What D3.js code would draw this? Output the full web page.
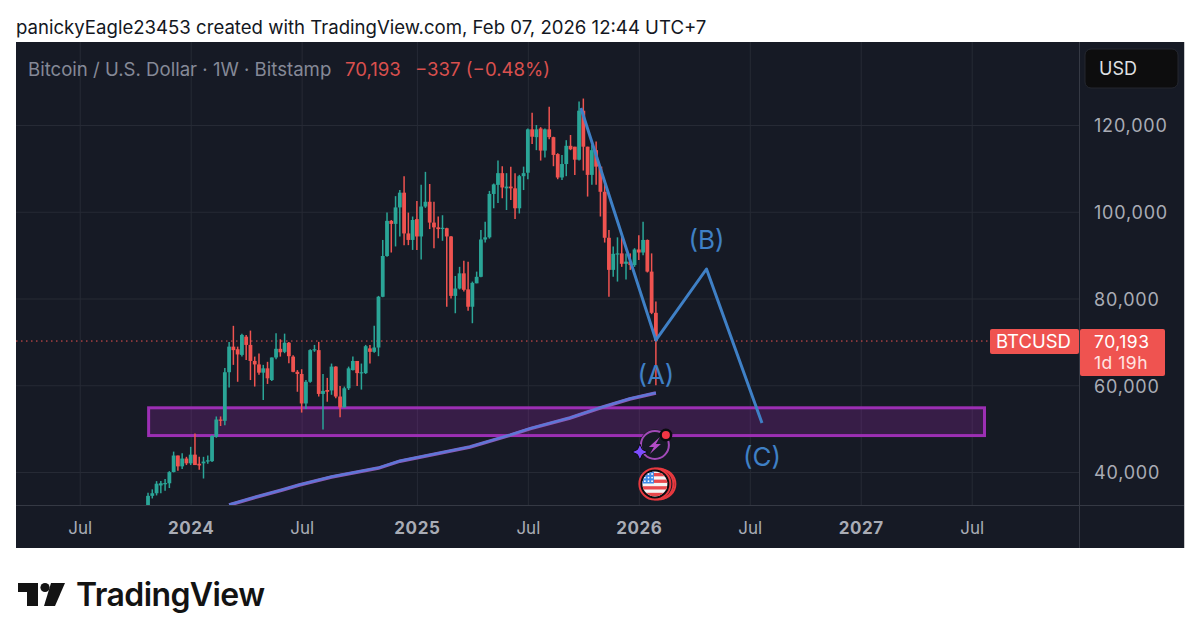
<!DOCTYPE html>
<html>
<head>
<meta charset="utf-8">
<script src="https://cdn.jsdelivr.net/npm/d3@7"></script>
<style>
    html, body { margin: 0; padding: 0; background: #fff; }
    svg { display: block; font-family: Inter, "Noto Sans", sans-serif; }
</style>
</head>
<body>
<div id="chart"></div>
<script>
// Weekly candles, first one is the week of Oct 23 2023
const firstWeek = "2023-10-23";
const opens = [
    30000, 34500, 35100, 36900, 37400, 37400, 40000, 43800, 41300, 43100,
    42000, 44000, 41900, 42000, 42400, 42500, 48100, 52100, 51800, 63000,
    68900, 68300, 67000, 71200, 69300, 65600, 64800, 62900, 63900, 61200,
    66400, 68400, 67700, 69800, 66600, 63100, 62600, 55800, 60800, 68100,
    68100, 58000, 58900, 58800, 64300, 57400, 54900, 59300, 63500, 65600,
    62800, 62800, 68500, 67700, 68700, 80400, 89800, 97900, 97200, 101000,
    104400, 95000, 93500, 98300, 94300, 101200, 102300, 97500, 96400, 96100,
    96200, 94300, 80600, 82300, 85800, 82100, 78100, 83500, 85000, 93600,
    94100, 104100, 106200, 108900, 105400, 105800, 105400, 100800, 108200, 109000,
    119000, 117200, 119200, 114100, 119000, 117200, 113300, 107900, 111000, 115200,
    115000, 112000, 123300, 115000, 108500, 114200, 110400, 104600, 94000, 86600,
    90300, 90400, 88000, 88500, 87700, 91300, 90600, 93500, 86200, 76700
];
const highs = [
    35200, 36000, 37900, 37900, 38400, 40200, 44700, 43800, 44300, 43500,
    45800, 48900, 43500, 43500, 43800, 48500, 52800, 52800, 64000, 70000,
    73700, 68900, 71900, 71600, 72600, 66600, 67300, 64700, 65400, 66400,
    72000, 70600, 71900, 70000, 66900, 63500, 63700, 61200, 68300, 69300,
    70000, 62600, 61700, 65000, 64400, 59800, 59700, 64300, 66600, 65600,
    65000, 69300, 69300, 73700, 80600, 93500, 99800, 98100, 103600, 105000,
    108200, 99800, 98900, 102500, 106200, 109200, 106400, 102300, 98900, 99200,
    96300, 94400, 85200, 87300, 88700, 88500, 83900, 86200, 95800, 97700,
    104800, 106500, 111800, 110500, 108900, 110400, 108900, 108500, 110400, 119200,
    122800, 120000, 119500, 119200, 124200, 117300, 113500, 113100, 116500, 117700,
    115000, 125400, 126100, 115000, 115400, 116200, 110400, 107300, 95800, 92000,
    94100, 94500, 90400, 90400, 91600, 94600, 97700, 93600, 90400, 79300
];
const lows = [
    29900, 33900, 34600, 35100, 35700, 36300, 39900, 40300, 40700, 41600,
    41600, 41600, 40500, 38500, 41900, 42300, 47900, 50600, 50800, 59500,
    64700, 60800, 66600, 65800, 61200, 59700, 62400, 56600, 60300, 61000,
    66000, 66600, 67400, 65100, 63000, 58500, 53700, 54500, 60600, 67700,
    57400, 49800, 56200, 57800, 57000, 52600, 54900, 58900, 63400, 59800,
    59000, 62600, 65000, 67500, 66700, 80300, 89600, 90600, 92000, 94300,
    92300, 92300, 91200, 91200, 89000, 100900, 96000, 91600, 93900, 93300,
    78100, 80000, 76600, 82100, 81600, 77200, 74300, 83500, 84900, 92900,
    93800, 100800, 102000, 103100, 100400, 102700, 98300, 99600, 105000, 107500,
    115600, 114200, 111800, 112500, 116700, 110500, 107500, 107300, 108200, 114200,
    108500, 111800, 109500, 103500, 106200, 106200, 98900, 92900, 80400, 85000,
    83900, 87300, 84400, 86600, 87300, 88900, 90000, 86000, 76400, 60000
];
const closes = [
    34500, 35100, 37300, 37400, 37450, 39970, 43800, 41300, 43100, 42000,
    44000, 41600, 41500, 42400, 42700, 48300, 52100, 51800, 63000, 68900,
    68100, 67100, 71600, 69300, 65600, 64800, 62900, 63900, 61600, 66400,
    68400, 67600, 69800, 66700, 63100, 62600, 55800, 60800, 68100, 68300,
    58000, 58700, 58500, 64300, 57400, 54900, 59300, 63900, 65600, 62800,
    63000, 69000, 67700, 68700, 80400, 89800, 97900, 97200, 101000, 104400,
    95000, 93500, 98100, 94300, 101200, 102300, 97500, 96400, 96000, 96300,
    94300, 80600, 82300, 85800, 82000, 78100, 83600, 85000, 93600, 94100,
    104100, 106300, 108900, 105600, 105800, 105400, 100800, 108200, 108900, 119000,
    117300, 119000, 114100, 119000, 117200, 113100, 107900, 111000, 115200, 114400,
    112000, 123300, 115000, 108500, 114200, 110400, 104600, 94000, 86600, 90300,
    90400, 88000, 88500, 87700, 91300, 90600, 93500, 86200, 76700, 70193
];

// Slow moving average under the candles
const maDates = ["2024-03-04", "2024-04-12", "2024-05-30", "2024-06-27", "2024-08-19", "2024-11-04",
    "2024-12-09", "2025-04-03", "2025-06-08", "2025-07-11", "2025-09-14", "2025-11-02", "2025-12-21", "2026-02-02"];
const maValues = [32400, 34000, 35850, 37000, 38850, 40900, 42500, 45750, 48500, 50000, 52450, 54750, 56850, 58200];

// Hand drawn ABC path and its labels
const waveDates = ["2025-10-02", "2026-02-02", "2026-04-26", "2026-07-26"];
const waveValues = [123900, 70400, 86800, 51300];
const waveLabels = [
    { text: "(A)", date: "2026-02-02", value: 60400 },
    { text: "(B)", date: "2026-04-26", value: 91400 },
    { text: "(C)", date: "2026-07-26", value: 41300 }
];

// Purple support box
const boxDates = ["2023-10-24", "2027-07-26"];
const boxValues = [54800, 48400];

const lastPrice = 70193;
const priceTicks = [120000, 100000, 80000, 60000, 40000];
const timeTicks = ["2023-07-03", "2024-01-01", "2024-07-01", "2025-01-06", "2025-07-07", "2026-01-05", "2026-07-06", "2027-01-04", "2027-07-05"];
const timeLabels = ["Jul", "2024", "Jul", "2025", "Jul", "2026", "Jul", "2027", "Jul"];

function init() {
    const w = 1200;
    const h = 642;
    const left = 16; // Chart panel edges
    const right = 1079; // Price axis starts here
    const panelRight = 1184;
    const top = 42;
    const plotBottom = 505; // Time axis starts here
    const panelBottom = 548;

    const teal = "#2aa597";
    const red = "#ef5350";
    const panelBg = "#161a25";
    const gridColor = "#262a35";
    const axisText = "#a9acb5";
    const blue = "#3f80c6";

    const parse = d3.utcParse("%Y-%m-%d");

    const candles = opens.map((o, i) => ({
        date: d3.utcMonday.offset(parse(firstWeek), i),
        open: o, high: highs[i], low: lows[i], close: closes[i]
    }));

    const xScale = d3.scaleUtc()
        .domain([parse("2024-01-01"), parse("2027-07-05")])
        .range([190.7, 971.7]);

    const yScale = d3.scaleLinear()
        .domain([40000, 120000])
        .range([472, 125]);

    const svg = d3.select("#chart")
        .append("svg")
        .attr("width", w)
        .attr("height", h);

    svg.append("rect").attr("width", w).attr("height", h).attr("fill", "#fff");

    // Header line above the panel
    svg.append("text")
        .attr("x", left)
        .attr("y", 34)
        .attr("font-size", "18.6px")
        .attr("fill", "#131722")
        .text("panickyEagle23453 created with TradingView.com, Feb 07, 2026 12:44 UTC+7");

    // Chart panel
    svg.append("rect")
        .attr("x", left)
        .attr("y", top)
        .attr("width", panelRight - left)
        .attr("height", panelBottom - top)
        .attr("fill", panelBg);
    svg.append("line")
        .attr("x1", panelRight + 0.5).attr("x2", panelRight + 0.5)
        .attr("y1", top).attr("y2", panelBottom)
        .attr("stroke", "#c9cacc");

    // Clip for everything living in the plot
    svg.append("clipPath").attr("id", "plot-clip")
        .append("rect")
        .attr("x", left).attr("y", top)
        .attr("width", right - left).attr("height", plotBottom - top);

    // Gridlines
    const xGrid = svg.append("g")
        .attr("transform", `translate(0,${plotBottom})`)
        .call(d3.axisBottom(xScale)
            .tickValues(timeTicks.map(parse))
            .tickSize(-(plotBottom - top))
            .tickFormat(""));
    xGrid.select(".domain").remove();
    xGrid.selectAll("line").attr("stroke", gridColor);

    const yGrid = svg.append("g")
        .attr("transform", `translate(${right},0)`)
        .call(d3.axisLeft(yScale)
            .tickValues(priceTicks)
            .tickSize(right - left)
            .tickFormat(""));
    yGrid.select(".domain").remove();
    yGrid.selectAll("line").attr("stroke", gridColor);

    const plot = svg.append("g").attr("clip-path", "url(#plot-clip)");

    // Last price dotted line
    plot.append("line")
        .attr("x1", left).attr("x2", right)
        .attr("y1", yScale(lastPrice)).attr("y2", yScale(lastPrice))
        .attr("stroke", red)
        .attr("stroke-width", 1)
        .attr("stroke-dasharray", "1.5 3.5");

    // Purple box
    plot.append("rect")
        .attr("x", xScale(parse(boxDates[0])))
        .attr("y", yScale(boxValues[0]))
        .attr("width", xScale(parse(boxDates[1])) - xScale(parse(boxDates[0])))
        .attr("height", yScale(boxValues[1]) - yScale(boxValues[0]))
        .attr("fill", "#9c27b0")
        .attr("fill-opacity", 0.25)
        .attr("stroke", "#9c2fb4")
        .attr("stroke-width", 3);

    // Moving average, violet underneath and blue on top
    const maData = maDates.map((d, i) => ({ date: parse(d), value: maValues[i] }));
    const maLine = d3.line().x(d => xScale(d.date)).y(d => yScale(d.value));
    plot.append("path")
        .attr("d", maLine(maData))
        .attr("fill", "none")
        .attr("stroke", "#8a5cba")
        .attr("stroke-width", 3.6);
    plot.append("path")
        .attr("d", maLine(maData))
        .attr("transform", "translate(0,-0.3)")
        .attr("fill", "none")
        .attr("stroke", "#5b78d8")
        .attr("stroke-width", 2.2);

    // Candles, wick first then body
    const bars = plot.selectAll("g.candle")
        .data(candles)
        .enter()
        .append("g")
        .attr("class", "candle")
        .attr("fill", d => d.close >= d.open ? teal : red)
        .attr("stroke", d => d.close >= d.open ? teal : red);

    bars.append("line")
        .attr("x1", d => xScale(d.date))
        .attr("x2", d => xScale(d.date))
        .attr("y1", d => yScale(d.high))
        .attr("y2", d => yScale(d.low))
        .attr("stroke-width", 1.5);

    bars.append("rect")
        .attr("x", d => xScale(d.date) - 1.9)
        .attr("width", 3.8)
        .attr("y", d => yScale(Math.max(d.open, d.close)))
        .attr("height", d => Math.max(1.2, Math.abs(yScale(d.open) - yScale(d.close))))
        .attr("stroke", "none");

    // ABC path
    const waveData = waveDates.map((d, i) => ({ date: parse(d), value: waveValues[i] }));
    plot.append("path")
        .attr("d", maLine(waveData))
        .attr("fill", "none")
        .attr("stroke", blue)
        .attr("stroke-width", 3)
        .attr("stroke-linejoin", "round");

    plot.selectAll("text.wave")
        .data(waveLabels)
        .enter()
        .append("text")
        .attr("class", "wave")
        .attr("x", d => xScale(parse(d.date)))
        .attr("y", d => yScale(d.value))
        .attr("text-anchor", "middle")
        .attr("font-size", "26px")
        .attr("fill", blue)
        .text(d => d.text);

    // Legend
    const legend = svg.append("text")
        .attr("x", 28)
        .attr("y", 76)
        .attr("font-size", "18.6px");
    legend.append("tspan")
        .attr("fill", "#858997")
        .text("Bitcoin / U.S. Dollar · 1W · Bitstamp");
    legend.append("tspan")
        .attr("x", 345)
        .attr("fill", "#d9504e")
        .text("70,193");
    legend.append("tspan")
        .attr("x", 415)
        .attr("fill", "#d9504e")
        .text("−337 (−0.48%)");

    // Axes panels
    svg.append("line")
        .attr("x1", left).attr("x2", panelRight)
        .attr("y1", plotBottom + 0.5).attr("y2", plotBottom + 0.5)
        .attr("stroke", "#353944");
    svg.append("line")
        .attr("x1", right + 0.5).attr("x2", right + 0.5)
        .attr("y1", top).attr("y2", panelBottom)
        .attr("stroke", "#353944");

    const yAxis = svg.append("g")
        .attr("transform", `translate(${right},0)`)
        .call(d3.axisRight(yScale)
            .tickValues(priceTicks)
            .tickSize(0)
            .tickPadding(15)
            .tickFormat(d3.format(",")));
    yAxis.select(".domain").remove();
    yAxis.selectAll("text")
        .attr("font-family", "Inter, sans-serif")
        .attr("font-size", "18px")
        .attr("letter-spacing", "0.8px")
        .attr("dy", "0.38em")
        .attr("fill", axisText);

    const xAxis = svg.append("g")
        .attr("transform", `translate(0,${plotBottom})`)
        .call(d3.axisBottom(xScale)
            .tickValues(timeTicks.map(parse))
            .tickSize(0)
            .tickPadding(17)
            .tickFormat((d, i) => timeLabels[i]));
    xAxis.select(".domain").remove();
    xAxis.selectAll("text")
        .attr("font-family", "Inter, sans-serif")
        .attr("font-size", "17px")
        .attr("font-weight", (d, i) => timeLabels[i] === "Jul" ? 400 : 700)
        .attr("letter-spacing", (d, i) => timeLabels[i] === "Jul" ? "0" : "0.6px")
        .attr("fill", axisText);

    // USD button
    svg.append("rect")
        .attr("x", 1085).attr("y", 49)
        .attr("width", 93).attr("height", 39)
        .attr("rx", 6)
        .attr("fill", "#0d0d0e")
        .attr("stroke", "#24272f");
    svg.append("text")
        .attr("x", 1099).attr("y", 75)
        .attr("font-size", "18px")
        .attr("fill", "#dfe0e3")
        .text("USD");

    // Last price tags
    svg.append("rect")
        .attr("x", 990).attr("y", 329)
        .attr("width", 89).attr("height", 25)
        .attr("rx", 2)
        .attr("fill", red);
    svg.append("text")
        .attr("x", 996).attr("y", 348)
        .attr("font-size", "18.5px")
        .attr("fill", "#fff")
        .text("BTCUSD");
    svg.append("rect")
        .attr("x", 1080).attr("y", 329)
        .attr("width", 85).attr("height", 47)
        .attr("rx", 2)
        .attr("fill", red);
    svg.append("text")
        .attr("x", 1094).attr("y", 348)
        .attr("font-size", "17.5px")
        .attr("letter-spacing", "0.5px")
        .attr("fill", "#fff")
        .text("70,193");
    svg.append("text")
        .attr("x", 1094).attr("y", 369)
        .attr("font-size", "17.5px")
        .attr("letter-spacing", "0.5px")
        .attr("fill", "#ffe3e2")
        .text("1d 19h");

    // Event icons below the last candle
    const iconX = xScale(candles[candles.length - 1].date) - 1;
    const bolt = svg.append("g").attr("transform", `translate(${iconX},445)`);
    bolt.append("circle").attr("r", 15.5).attr("fill", panelBg);
    bolt.append("circle").attr("r", 14).attr("fill", "none")
        .attr("stroke", "#a24ab8").attr("stroke-width", 2);
    bolt.append("path")
        .attr("d", "M5,-8 L-6,2 L-1,2 L-5,9 L6,-1 L1,-1 Z")
        .attr("fill", "#b24cc4");
    bolt.append("circle").attr("cx", 11).attr("cy", -10).attr("r", 6.5).attr("fill", "#0b0c10");
    bolt.append("circle").attr("cx", 11).attr("cy", -10).attr("r", 4).attr("fill", "#f23645");
    bolt.append("path")
        .attr("d", "M-15,-1 L-12.5,4.5 L-7,7 L-12.5,9.5 L-15,15 L-17.5,9.5 L-23,7 L-17.5,4.5 Z")
        .attr("fill", "#7c4dff")
        .attr("stroke", "#0b0c10")
        .attr("stroke-width", 1);

    const flag = svg.append("g").attr("transform", `translate(${iconX},484)`);
    flag.append("circle").attr("cx", 6).attr("r", 14.5).attr("fill", panelBg)
        .attr("stroke", "#e8393f").attr("stroke-width", 2);
    flag.append("circle").attr("cx", 3).attr("r", 15.5).attr("fill", panelBg)
        .attr("stroke", "#e8393f").attr("stroke-width", 2);
    flag.append("circle").attr("r", 15.5).attr("fill", "#0b0c10")
        .attr("stroke", "#e8393f").attr("stroke-width", 2);
    svg.append("clipPath").attr("id", "flag-clip")
        .append("circle").attr("r", 12.5);
    const flagBody = flag.append("g").attr("clip-path", "url(#flag-clip)");
    flagBody.append("rect").attr("x", -13).attr("y", -13).attr("width", 26).attr("height", 26).attr("fill", "#f5f5f5");
    d3.range(4).forEach(i => {
        flagBody.append("rect")
            .attr("x", -13).attr("y", -11 + i * 6.6)
            .attr("width", 26).attr("height", 3.3)
            .attr("fill", "#e8474c");
    });
    flagBody.append("rect").attr("x", -13).attr("y", -13).attr("width", 12).attr("height", 12.5).attr("fill", "#3f8be8");
    d3.range(3).forEach(r => d3.range(3).forEach(c => {
        flagBody.append("circle")
            .attr("cx", -10 + c * 3.6).attr("cy", -10 + r * 3.6)
            .attr("r", 0.9).attr("fill", "#fff");
    }));

    // TradingView logo
    const logo = svg.append("g").attr("fill", "#131313");
    logo.append("path").attr("d", "M18,583 H38 V606 H27 V592 H18 Z");
    logo.append("circle").attr("cx", 45).attr("cy", 587.5).attr("r", 4.6);
    logo.append("path").attr("d", "M51,583 H65 L55,606 H44 Z");
    logo.append("text")
        .attr("x", 76).attr("y", 606)
        .attr("font-size", "32px")
        .attr("font-weight", 600)
        .attr("letter-spacing", "-0.6px")
        .text("TradingView");
}

window.onload = init;
</script>
</body>
</html>
